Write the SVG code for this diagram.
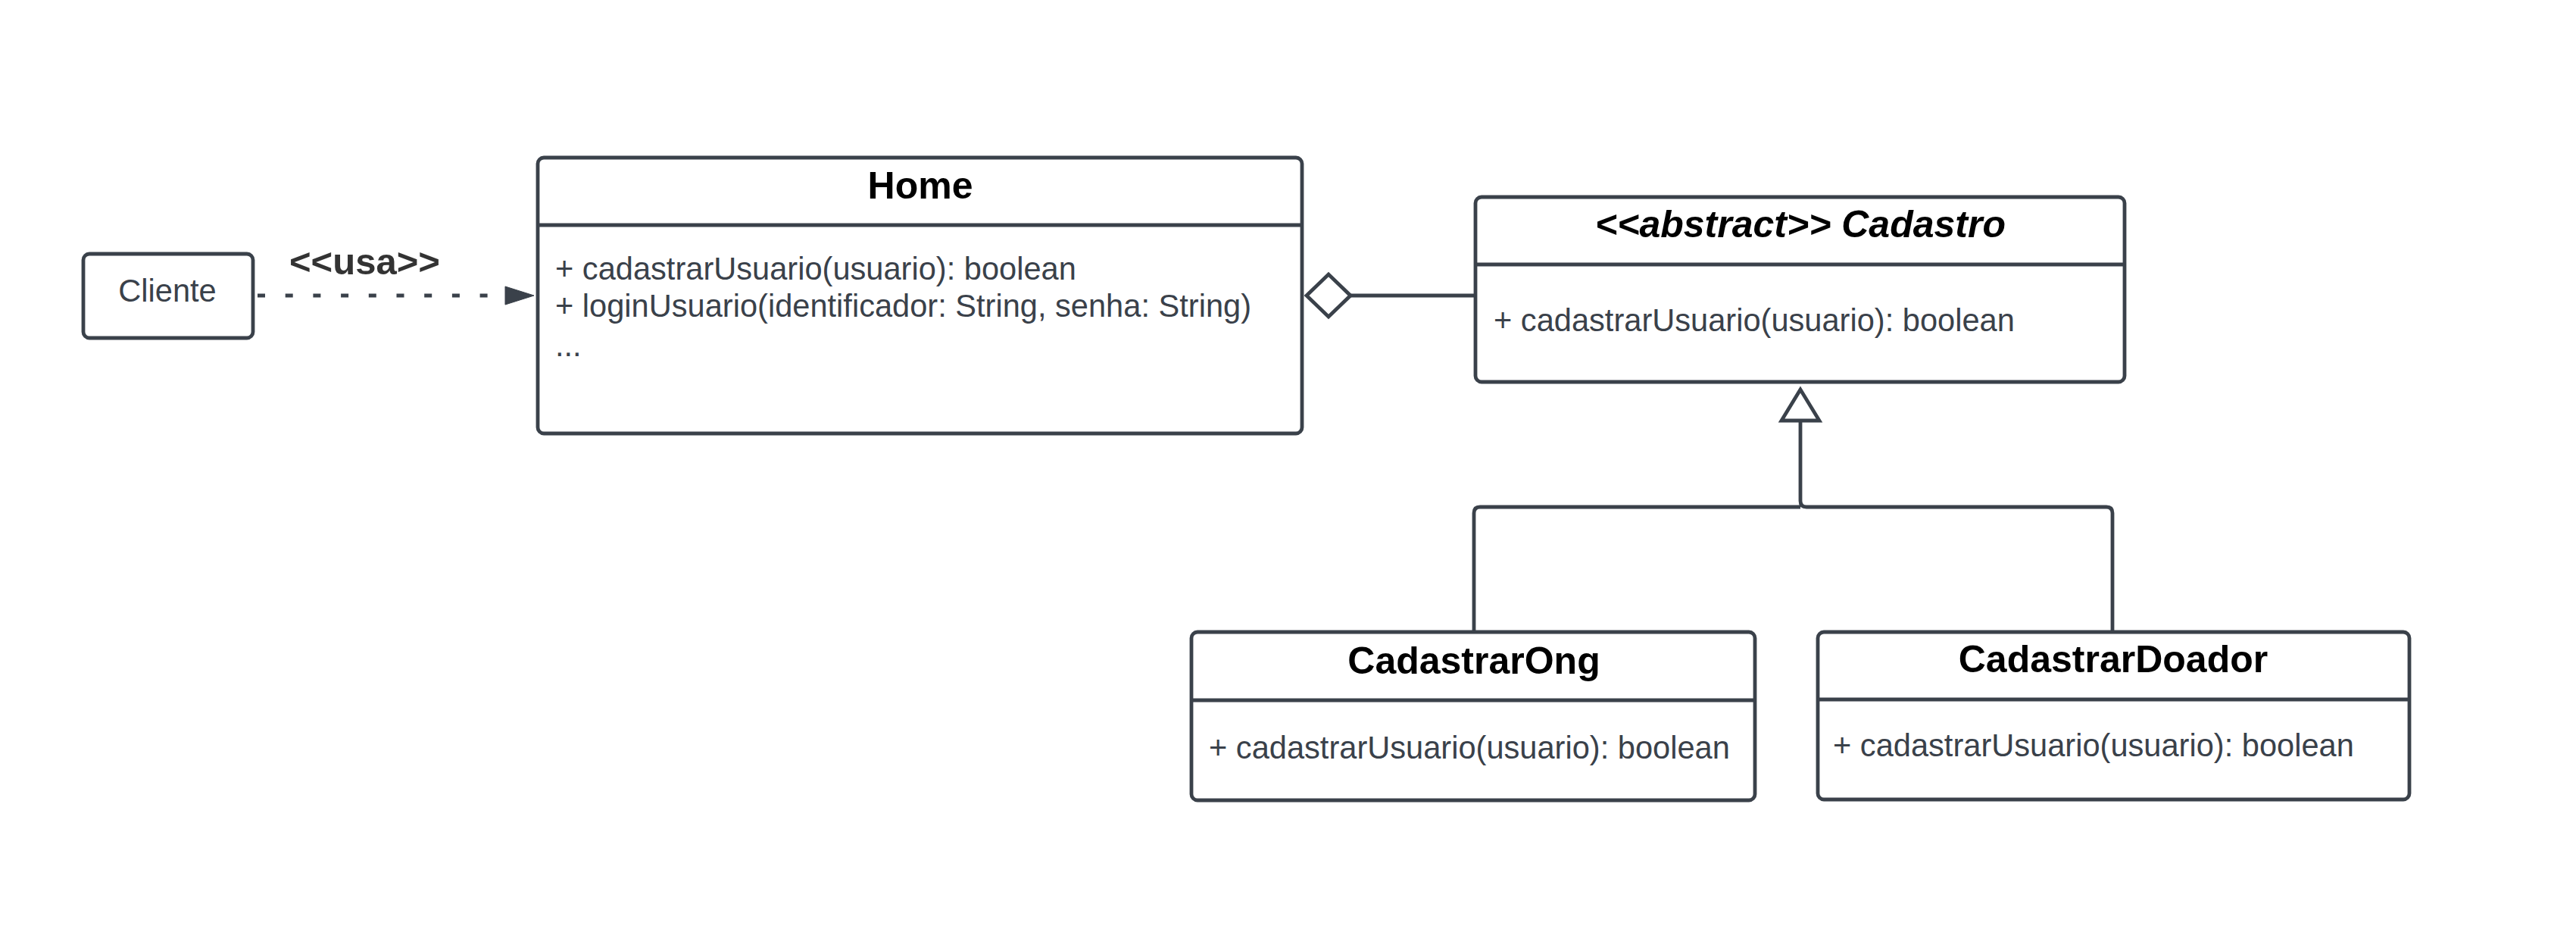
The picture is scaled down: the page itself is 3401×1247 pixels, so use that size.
<svg xmlns="http://www.w3.org/2000/svg" width="3401" height="1247" viewBox="0 0 3401 1247">
<style>
.box{fill:#ffffff;stroke:#3a414a;stroke-width:4.8}
.div{stroke:#3a414a;stroke-width:4.8;fill:none}
.ln{stroke:#3a414a;stroke-width:4.8;fill:none}
.title{font-family:"Liberation Sans",Arial,sans-serif;font-weight:bold;font-size:50px;fill:#000000;text-anchor:middle}
.body{font-family:"Liberation Sans",Arial,sans-serif;font-size:41.6px;fill:#3a414a}
</style>
<rect width="3401" height="1247" fill="#ffffff"/>
<g id="connectors">
  <path class="ln" d="M340,390 H667" stroke-dasharray="10 26.7" stroke-width="5.5"/>
  <polygon points="667,378 705,390 667,402" fill="#3a414a" stroke="#3a414a" stroke-width="1"/>
  <text x="382" y="362" font-family="Liberation Sans,Arial,sans-serif" font-weight="bold" font-size="49" fill="#333333">&lt;&lt;usa&gt;&gt;</text>
  <path class="ln" d="M1783,390 H1946"/>
  <polygon points="1725,390 1754,362 1783,390 1754,418" fill="#ffffff" stroke="#3a414a" stroke-width="4.8"/>
  <path class="ln" d="M2377,557 V661 Q2377,669 2385,669 H2781 Q2789,669 2789,677 V832"/>
  <path class="ln" d="M2377,669 H1954 Q1946,669 1946,677 V832"/>
  <polygon points="2377,514 2352,555 2402,555" fill="#ffffff" stroke="#3a414a" stroke-width="4.8"/>
</g>
<g id="cliente">
  <rect class="box" x="110" y="335" width="224" height="111" rx="8"/>
  <text class="body" x="221" y="398" text-anchor="middle">Cliente</text>
</g>
<g id="home">
  <rect class="box" x="710" y="208" width="1009" height="364" rx="8"/>
  <line class="div" x1="710" y1="297" x2="1719" y2="297"/>
  <text class="title" x="1215" y="262">Home</text>
  <text class="body" x="733" y="369">+ cadastrarUsuario(usuario): boolean</text>
  <text class="body" x="733" y="418">+ loginUsuario(identificador: String, senha: String)</text>
  <text class="body" x="733" y="470">...</text>
</g>
<g id="cadastro">
  <rect class="box" x="1948" y="260" width="857" height="244" rx="8"/>
  <line class="div" x1="1948" y1="349" x2="2805" y2="349"/>
  <text class="title" x="2377" y="313" font-style="italic">&lt;&lt;abstract&gt;&gt; Cadastro</text>
  <text class="body" x="1972" y="437">+ cadastrarUsuario(usuario): boolean</text>
</g>
<g id="cadastrarOng">
  <rect class="box" x="1573" y="834" width="744" height="222" rx="8"/>
  <line class="div" x1="1573" y1="924" x2="2317" y2="924"/>
  <text class="title" x="1946" y="889">CadastrarOng</text>
  <text class="body" x="1596" y="1001">+ cadastrarUsuario(usuario): boolean</text>
</g>
<g id="cadastrarDoador">
  <rect class="box" x="2400" y="834" width="781" height="221" rx="8"/>
  <line class="div" x1="2400" y1="923" x2="3181" y2="923"/>
  <text class="title" x="2790" y="887">CadastrarDoador</text>
  <text class="body" x="2420" y="998">+ cadastrarUsuario(usuario): boolean</text>
</g>
</svg>
